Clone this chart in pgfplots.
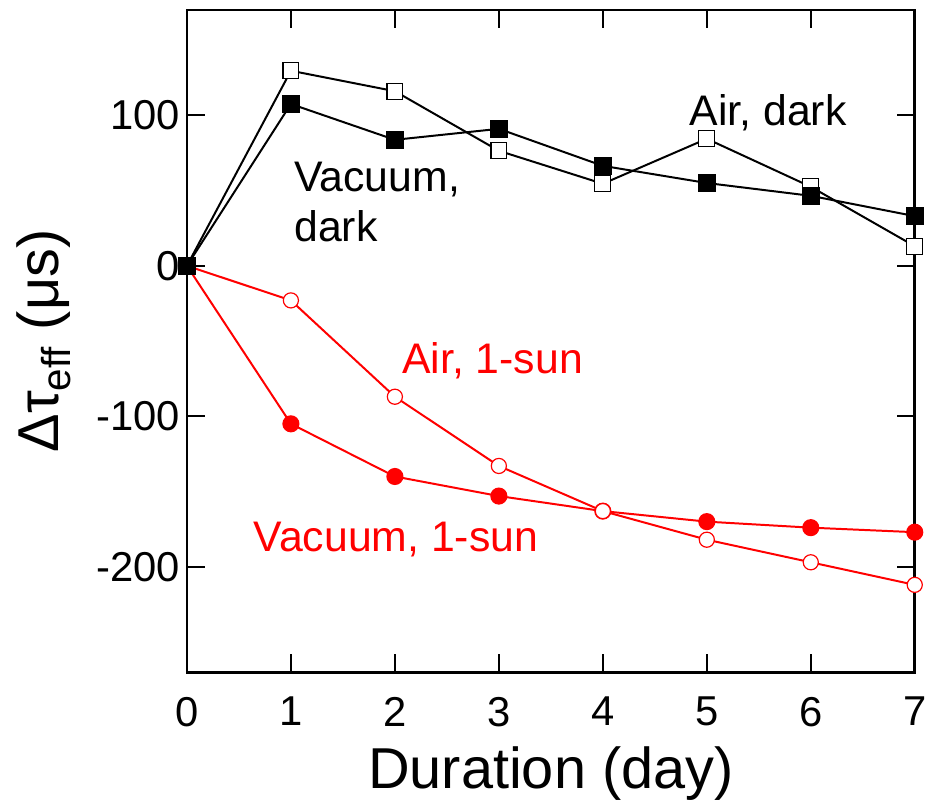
\documentclass[border=0pt]{standalone}
\usepackage{fontspec}
\setmainfont{Liberation Sans}
\usepackage{pgfplots}
\pgfplotsset{compat=1.18}

\begin{document}
\begin{tikzpicture}
\begin{axis}[
    name=main,
    scale only axis,
    width=366pt, height=333pt,
    xmin=0, xmax=7,
    ymin=-270, ymax=170,
    xtick={0,1,2,3,4,5,6,7},
    ytick={-200,-100,0,100},
    tick align=inside,
    major tick length=9pt,
    tick style={black, line width=1.2pt},
    axis line style={line width=1.4pt},
    /pgf/number format/assume math mode=true,
    ticklabel style={font=\fontsize{21}{23}\selectfont},
    xticklabel style={yshift=-9pt},
    xlabel={Duration (day)},
    ylabel={Δτ\textsubscript{eff} (μs)},
    label style={font=\fontsize{29}{31}\selectfont},
    xlabel style={at={(axis description cs:0.5,0)}, anchor=center, yshift=-51pt},
    ylabel style={at={(axis description cs:0,0.5)}, anchor=center, yshift=72pt},
    clip=false,
]
% vacuum, 1-sun
\addplot[red, line width=1pt, mark=*, mark size=3.8pt,
    mark options={fill=red}] coordinates {
    (0,0)(1,-105)(2,-140)(3,-153)(4,-163)(5,-170)(6,-174)(7,-177)};
% air, 1-sun
\addplot[red, line width=1pt, mark=*, mark size=3.8pt,
    mark options={fill=white, line width=0.6pt}] coordinates {
    (0,0)(1,-23)(2,-87)(3,-133)(4,-163)(5,-182)(6,-197)(7,-212)};
% air, dark
\addplot[black, line width=1pt, mark=square*, mark size=4pt,
    mark options={fill=white, line width=0.6pt}] coordinates {
    (0,0)(1,129.6)(2,116)(3,76.4)(4,54.5)(5,84.4)(6,52.5)(7,13)};
% vacuum, dark
\addplot[black, line width=1pt, mark=square*, mark size=4pt,
    mark options={fill=black}] coordinates {
    (0,0)(1,107.5)(2,83.7)(3,91)(4,66.4)(5,55)(6,46.5)(7,33)};

\node[font=\fontsize{21.5}{23}\selectfont] at (axis cs:5.59,102) {Air, dark};
\node[font=\fontsize{21.5}{25}\selectfont, anchor=north west, align=left,
    inner sep=0pt] at (axis cs:1.03,69) {Vacuum,\\dark};
\node[red, font=\fontsize{21.5}{23}\selectfont] at (axis cs:2.94,-63) {Air, 1-sun};
\node[red, font=\fontsize{21.5}{23}\selectfont] at (axis cs:2.01,-182) {Vacuum, 1-sun};
\end{axis}
% page margins as in the reference
\path ([shift={(-94pt,0pt)}]main.south west) ([shift={(6.5pt,-69.5pt)}]main.south east)
      ([shift={(0pt,5pt)}]main.north east);
\end{tikzpicture}
\end{document}
